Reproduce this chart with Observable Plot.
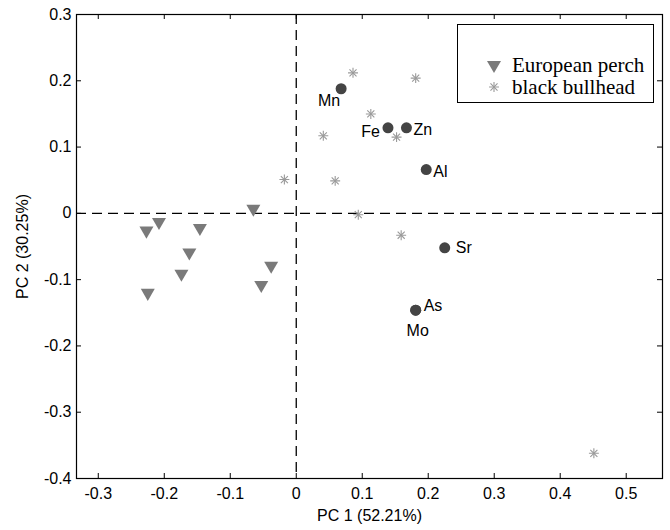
<!DOCTYPE html>
<html><head><meta charset="utf-8">
<script src="https://cdn.jsdelivr.net/npm/d3@7"></script>
<script src="https://cdn.jsdelivr.net/npm/@observablehq/plot@0.6"></script>
<style>
body{margin:0;background:#fff}
#wrap{position:relative;width:670px;height:530px}
#legend{position:absolute;left:457px;top:24px;width:195px;height:77px;border:1px solid #000;background:#fff;font-family:"Liberation Serif","Times New Roman",serif;font-size:21px;color:#000}
.row{position:absolute;left:0;height:22px;line-height:22px;white-space:nowrap}
.row svg{position:absolute;left:27px;top:2px}
.row span{position:absolute;left:54px;top:0}
</style></head>
<body><div id="wrap"></div>
<script>
// European perch scores
const perchX = [-0.227, -0.208, -0.146, -0.162, -0.065, -0.038, -0.225, -0.174, -0.053];
const perchY = [-0.026, -0.013, -0.022, -0.059, 0.007, -0.079, -0.120, -0.091, -0.108];
// black bullhead scores
const bullX = [-0.018, 0.041, 0.059, 0.086, 0.181, 0.113, 0.152, 0.094, 0.159, 0.451];
const bullY = [0.051, 0.117, 0.049, 0.212, 0.204, 0.150, 0.115, -0.002, -0.033, -0.362];
// element loadings
const elemNames = ["Mn", "Fe", "Zn", "Al", "Sr", "As", "Mo"];
const elemX = [0.068, 0.139, 0.167, 0.197, 0.225, 0.181, 0.181];
const elemY = [0.188, 0.129, 0.129, 0.066, -0.052, -0.146, -0.146];
// ticks
const xTicks = [-0.3, -0.2, -0.1, 0, 0.1, 0.2, 0.3, 0.4, 0.5];
const yTicks = [-0.4, -0.3, -0.2, -0.1, 0, 0.1, 0.2, 0.3];
const seriesNames = ["European perch", "black bullhead"];

const perch = perchX.map((x, i) => ({x, y: perchY[i]}));
const bull = bullX.map((x, i) => ({x, y: bullY[i]}));
const elems = elemNames.map((name, i) => ({name, x: elemX[i], y: elemY[i]}));

const W = 670, H = 530, mt = 14, mb = 52, ml = 76, mr = 8;
const ph = H - mt - mb, pw = W - ml - mr;
const font = "'Liberation Sans', Arial, Helvetica, sans-serif";
const lab = (names, opts) => Plot.text(elems, {x: "x", y: "y", text: "name", fontSize: 16, fill: "#000",
  filter: d => names.includes(d.name), ...opts});

const chart = Plot.plot({
  width: W, height: H,
  marginTop: mt, marginBottom: mb, marginLeft: ml, marginRight: mr,
  x: {domain: [-0.333, 0.555]},
  y: {domain: [-0.4, 0.3]},
  style: {fontFamily: font, fontSize: "16px", color: "#000", background: "#fff"},
  marks: [
    Plot.ruleX([0], {stroke: "#000", strokeWidth: 1.3, strokeDasharray: "10,6"}),
    Plot.ruleY([0], {stroke: "#000", strokeWidth: 1.3, strokeDasharray: "10,6"}),
    Plot.frame({stroke: "#000", strokeWidth: 1.2}),
    Plot.tickX(xTicks, {x: d => d, insetTop: ph - 5, stroke: "#000"}),
    Plot.tickX(xTicks, {x: d => d, insetBottom: ph - 5, stroke: "#000"}),
    Plot.tickY(yTicks, {y: d => d, insetRight: pw - 5, stroke: "#000"}),
    Plot.tickY(yTicks, {y: d => d, insetLeft: pw - 5, stroke: "#000"}),
    Plot.axisX(xTicks, {tickSize: 0, tickPadding: 9, tickFormat: d => d === 0 ? "0" : String(d), fontSize: 16,
      label: "PC 1 (52.21%)", labelAnchor: "center", labelArrow: "none", labelOffset: 42}),
    Plot.axisY(yTicks, {tickSize: 0, tickPadding: 5, tickFormat: d => d === 0 ? "0" : String(d), fontSize: 16,
      label: "PC 2 (30.25%)", labelAnchor: "center", labelArrow: "none", labelOffset: 60}),
    Plot.dot(perch, {x: "x", y: "y", symbol: "triangle", rotate: 180, r: 5.2, fill: "#7a7a7a", stroke: "none"}),
    Plot.dot(bull, {x: "x", y: "y", symbol: "plus", r: 3.3, stroke: "#9a9a9a", strokeWidth: 1.1}),
    Plot.dot(bull, {x: "x", y: "y", symbol: "times", r: 3.3, stroke: "#9a9a9a", strokeWidth: 1.1}),
    Plot.dot(elems, {x: "x", y: "y", r: 5.5, fill: "#444", stroke: "none"}),
    lab(["Mn"], {textAnchor: "end", dx: -1, dy: 12}),
    lab(["Fe"], {textAnchor: "end", dx: -8, dy: 4}),
    lab(["Zn", "Al"], {textAnchor: "start", dx: 7, dy: 2}),
    lab(["Sr"], {textAnchor: "start", dx: 11, dy: 0}),
    lab(["As"], {textAnchor: "start", dx: 8, dy: -4}),
    lab(["Mo"], {textAnchor: "middle", dx: 2, dy: 21})
  ]
});
const wrap = document.getElementById("wrap");
wrap.appendChild(chart);

// legend inside the frame
const legend = document.createElement("div");
legend.id = "legend";
const tri = d3.symbol(d3.symbolTriangle, Math.PI * 5.2 * 5.2)();
const plus = d3.symbol(d3.symbolPlus, Math.PI * 3.3 * 3.3)();
const times = d3.symbol(d3.symbolTimes, Math.PI * 3.3 * 3.3)();
const syms = [
  `<path d="${tri}" transform="translate(9,9) rotate(180)" fill="#7a7a7a"/>`,
  `<path d="${plus}" transform="translate(9,9)" fill="none" stroke="#9a9a9a" stroke-width="1.1"/><path d="${times}" transform="translate(9,9)" fill="none" stroke="#9a9a9a" stroke-width="1.1"/>`
];
const tops = [29, 51];
seriesNames.forEach((name, i) => {
  const row = document.createElement("div");
  row.className = "row";
  row.style.top = tops[i] + "px";
  row.innerHTML = `<svg width="18" height="18">${syms[i]}</svg><span>${name}</span>`;
  legend.appendChild(row);
});
wrap.appendChild(legend);
</script>
</body></html>
